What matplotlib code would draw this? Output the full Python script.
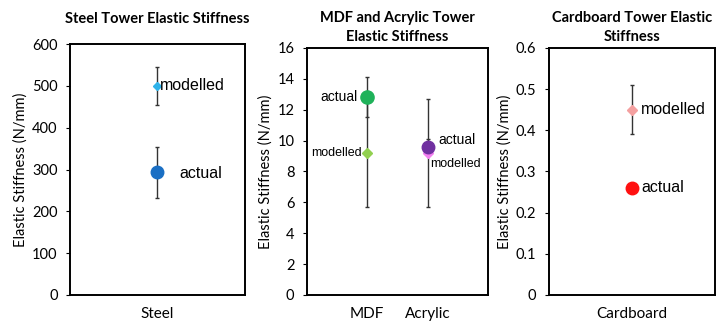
import numpy as np
import matplotlib.pyplot as plt

# values
steel_actual = 293
steel_actual_err = 60
steel_model = 500
steel_model_err = 46

mdf_acr_names = ['MDF', 'Acrylic']
mdf_acr_actual = [12.8, 9.6]
mdf_acr_actual_err = [1.3, 0.5]
mdf_acr_model = [9.2, 9.2]
mdf_acr_model_err = [3.5, 3.5]

card_actual = 0.26
card_actual_err = 0.0
card_model = 0.45
card_model_err = 0.06

steel_ticks = [0, 100, 200, 300, 400, 500, 600]
mdf_ticks = [0, 2, 4, 6, 8, 10, 12, 14, 16]
card_ticks = [0, 0.1, 0.2, 0.3, 0.4, 0.5, 0.6]
card_ticklabels = ['0', '0.1', '0.2', '0.3', '0.4', '0.5', '0.6']

plt.rcParams['font.family'] = ['Lato', 'DejaVu Sans']
label_font = 'Liberation Sans'
ecol = '#333333'

fig = plt.figure(figsize=(7.22, 3.22), dpi=100)
ax1 = fig.add_axes([0.097, 0.084, 0.242, 0.779])
ax2 = fig.add_axes([0.425, 0.084, 0.251, 0.767])
ax3 = fig.add_axes([0.760, 0.084, 0.230, 0.767])


def style(ax, ticks, title, ticklabels=None, tpad=5):
    ax.set_ylim(ticks[0], ticks[-1])
    ax.set_yticks(ticks)
    if ticklabels is not None:
        ax.set_yticklabels(ticklabels)
    ax.tick_params(axis='y', direction='out', length=3, width=0.8, labelsize=10.5, pad=6)
    ax.tick_params(axis='x', length=0, labelsize=11, pad=9)
    for s in ax.spines.values():
        s.set_linewidth(1.4)
        s.set_color('black')
    ax.set_ylabel('Elastic Stiffness (N/mm)', fontsize=10.5, labelpad=3)
    ax.set_title(title, fontsize=10.5, fontweight='bold', pad=tpad, linespacing=1.45)


def point(ax, x, y, err, color, marker, ms):
    ax.errorbar([x], [y], yerr=[err], fmt=marker, color=color, ms=ms,
                ecolor=ecol, elinewidth=1, capsize=1.5, capthick=1, zorder=3)


def label(ax, x, y, text, dx, dy, size, ha='left'):
    ax.annotate(text, (x, y), xytext=(dx, dy), textcoords='offset pixels',
                ha=ha, va='center', fontsize=size, family=label_font, zorder=4)


# steel
ax1.set_xlim(0, 2)
point(ax1, 1, steel_actual, steel_actual_err, '#1a6fc4', 'o', 9)
point(ax1, 1, steel_model, steel_model_err, '#2fb3ea', 'D', 4.5)
label(ax1, 1, steel_model, 'modelled', 3, 0, 11.5)
label(ax1, 1, steel_actual, 'actual', 22, -1, 11.5)
ax1.set_xticks([1])
ax1.set_xticklabels(['Steel'])
style(ax1, steel_ticks, 'Steel Tower Elastic Stiffness', tpad=15)

# MDF and acrylic
ax2.set_xlim(0, 3)
xs = np.arange(1, len(mdf_acr_names) + 1)
point(ax2, xs[0], mdf_acr_model[0], mdf_acr_model_err[0], '#92d050', 'D', 5)
point(ax2, xs[0], mdf_acr_actual[0], mdf_acr_actual_err[0], '#1fb25a', 'o', 9.5)
point(ax2, xs[1], mdf_acr_model[1], mdf_acr_model_err[1], '#f27ff0', 'D', 5)
point(ax2, xs[1], mdf_acr_actual[1], mdf_acr_actual_err[1], '#7030a0', 'o', 9)
label(ax2, xs[0], mdf_acr_actual[0], 'actual', -10, 0, 10, ha='right')
label(ax2, xs[0], mdf_acr_model[0], 'modelled', -5, 0, 9, ha='right')
label(ax2, xs[1], mdf_acr_actual[1], 'actual', 11, 7, 10)
label(ax2, xs[1], mdf_acr_model[1], 'modelled', 2, -11, 9)
ax2.set_xticks(xs)
ax2.set_xticklabels(mdf_acr_names)
style(ax2, mdf_ticks, 'MDF and Acrylic Tower\nElastic Stiffness')

# cardboard
ax3.set_xlim(0, 2)
point(ax3, 1, card_model, card_model_err, '#f4a0a0', 'D', 5)
point(ax3, 1, card_actual, card_actual_err, '#ff1010', 'o', 9)
label(ax3, 1, card_model, 'modelled', 9, 0, 11.5)
label(ax3, 1, card_actual, 'actual', 10, 0, 11.5)
ax3.set_xticks([1])
ax3.set_xticklabels(['Cardboard'])
style(ax3, card_ticks, 'Cardboard Tower Elastic\nStiffness', card_ticklabels)

fig.savefig('out.png', dpi=100, facecolor='white')
